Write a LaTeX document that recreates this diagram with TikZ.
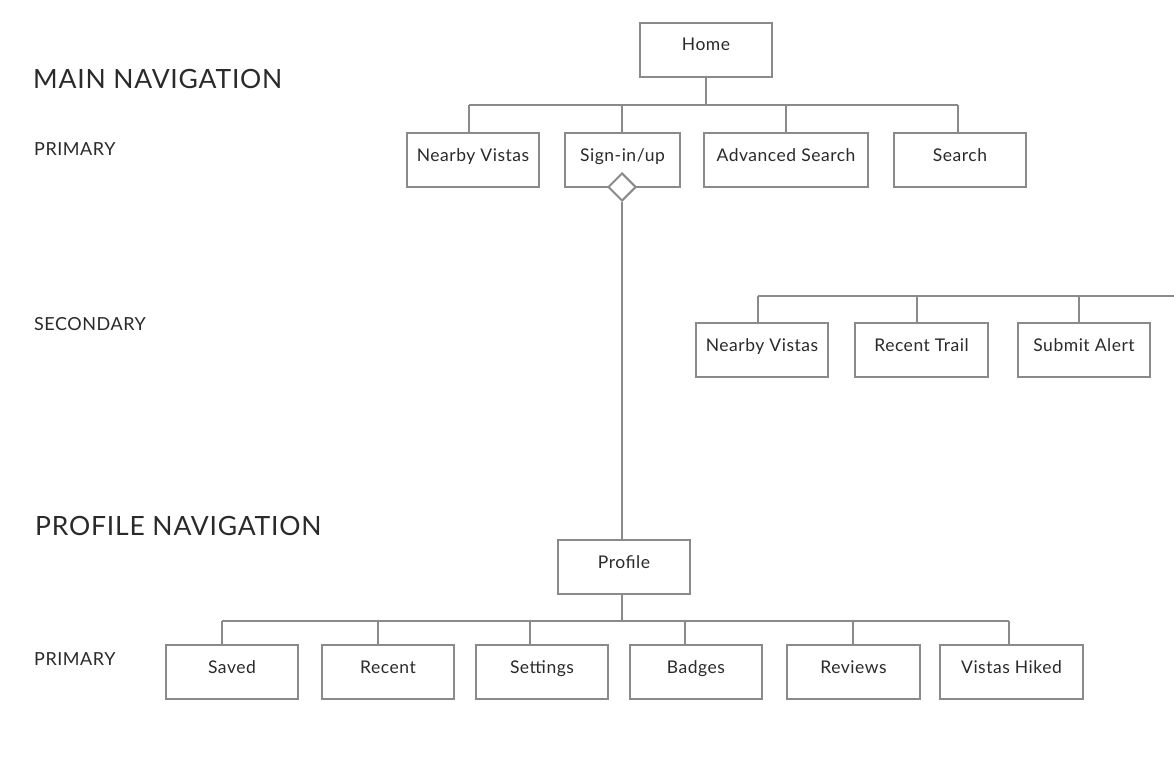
\documentclass[tikz,border=0pt]{standalone}
\usepackage{fontspec}
\setmainfont{Lato}[LetterSpace=3]
\usetikzlibrary{positioning,shapes.geometric}
\definecolor{linegray}{HTML}{8A8A8A}
\definecolor{textgray}{HTML}{2A2A2A}
\tikzset{
    navbox/.style={draw=linegray, line width=2pt, fill=white, anchor=north west,
        minimum height=54pt, inner sep=0pt, outer sep=0pt, text height=12pt,
        text depth=10pt, text=textgray, font=\fontsize{17.5}{20}\selectfont},
    link/.style={draw=linegray, line width=2pt},
    heading/.style={anchor=west, inner sep=0pt, text=textgray,
        font=\fontsize{26.5}{30}\selectfont},
    level/.style={anchor=west, inner sep=0pt, text=textgray,
        font=\fontsize{18}{20}\selectfont}
}

\begin{document}
\begin{tikzpicture}[x=1pt, y=-1pt]
    \fill[white] (0,0) rectangle (1174,768);
    \useasboundingbox (0,0) rectangle (1174,768);

    % Draw section headings.
    \node[heading] (mainhead) at (33,79) {MAIN NAVIGATION};
    \node[level] (mainprim) at (34,149) {PRIMARY};
    \node[level] (mainsec) at (34,324) {SECONDARY};
    \node[heading] (profhead) at (35,526) {PROFILE NAVIGATION};
    \node[level] (profprim) at (34,659) {PRIMARY};

    % Draw main navigation boxes.
    \node[navbox, minimum width=132pt] (home) at (640,23) {Home};
    \node[navbox, minimum width=132pt] (nearby) at (407,133) {Nearby Vistas};
    \node[navbox, minimum width=115pt] (signin) at (565,133) {Sign-in/up};
    \node[navbox, minimum width=164pt] (advanced) at (704,133) {Advanced Search};
    \node[navbox, minimum width=132pt] (search) at (894,133) {Search};

    % Draw main navigation tree.
    \coordinate (mainbus) at (706,105);
    \coordinate (m1) at (469,105);
    \coordinate (m2) at (622,105);
    \coordinate (m3) at (786,105);
    \coordinate (m4) at (958,105);
    \draw[link] (home.south) -- (home.south |- mainbus);
    \draw[link] (m1) -- (m4);
    \foreach \c/\n in {m1/nearby, m2/signin, m3/advanced, m4/search}
        \draw[link] (\c) -- (\c |- \n.north);

    % Draw secondary boxes.
    \node[navbox, minimum width=132pt] (secnearby) at (696,323) {Nearby Vistas};
    \node[navbox, minimum width=133pt] (recenttrail) at (855,323) {Recent Trail};
    \node[navbox, minimum width=132pt] (alert) at (1018,323) {Submit Alert};

    % Draw secondary tree.
    \coordinate (s1) at (758,296);
    \coordinate (s2) at (917,296);
    \coordinate (s3) at (1079,296);
    \coordinate (send) at (1174,296);
    \draw[link] (s1) -- (send);
    \foreach \c/\n in {s1/secnearby, s2/recenttrail, s3/alert}
        \draw[link] (\c) -- (\c |- \n.north);

    % Draw profile boxes.
    \node[navbox, minimum width=132pt] (profile) at (558,540) {Profile};
    \node[navbox, minimum width=132pt] (saved) at (166,645) {Saved};
    \node[navbox, minimum width=132pt] (recent) at (322,645) {Recent};
    \node[navbox, minimum width=132pt] (settings) at (476,645) {Settings};
    \node[navbox, minimum width=132pt] (badges) at (630,645) {Badges};
    \node[navbox, minimum width=133pt] (reviews) at (787,645) {Reviews};
    \node[navbox, minimum width=143pt] (hiked) at (940,645) {Vistas Hiked};

    % Draw sign-in link to profile.
    \node[diamond, draw=linegray, line width=2pt, fill=white, inner sep=0pt,
        minimum size=28pt] (gate) at (622,187) {};
    \draw[link] (gate.south) -- (gate.south |- profile.north);

    % Draw profile tree.
    \coordinate (profbus) at (622,621);
    \coordinate (p1) at (222,621);
    \coordinate (p2) at (378,621);
    \coordinate (p3) at (530,621);
    \coordinate (p4) at (685,621);
    \coordinate (p5) at (853,621);
    \coordinate (p6) at (1009,621);
    \draw[link] (profile.south -| profbus) -- (profbus);
    \draw[link] (p1) -- (p6);
    \foreach \c/\n in {p1/saved, p2/recent, p3/settings, p4/badges, p5/reviews, p6/hiked}
        \draw[link] (\c) -- (\c |- \n.north);
\end{tikzpicture}
\end{document}
